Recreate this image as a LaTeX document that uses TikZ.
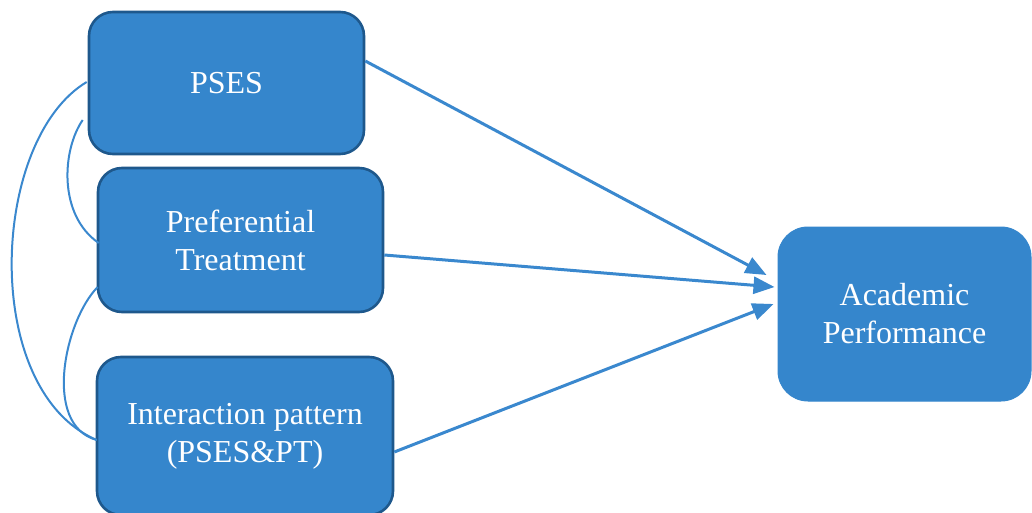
\documentclass[tikz,border=0pt]{standalone}
\usepackage{fontspec}
\setmainfont{Liberation Serif}
\usetikzlibrary{arrows.meta,calc}
\definecolor{boxfill}{RGB}{53,134,204}
\definecolor{boxline}{RGB}{30,88,140}
\definecolor{linkblue}{RGB}{58,136,206}
\begin{document}
\begin{tikzpicture}[x=1pt,y=-1pt,
  varbox/.style={draw=boxline,fill=boxfill,line width=2.6pt,rounded corners=24pt,
    text=white,align=center,inner sep=0pt,font=\fontsize{32}{38}\selectfont},
  outbox/.style={draw=boxfill,fill=boxfill,line width=1pt,rounded corners=30pt,
    text=white,align=center,inner sep=0pt,font=\fontsize{32}{38}\selectfont},
  effect/.style={draw=linkblue,line width=3pt,-{Triangle[length=21pt,width=17pt]}},
  corr/.style={draw=linkblue,line width=2pt}]
\useasboundingbox (0,0) rectangle (1032,513);
\node[varbox,minimum width=275pt,minimum height=142pt] (pses) at (226.5,83) {PSES};
\node[varbox,minimum width=285pt,minimum height=144pt] (pt) at (240.5,240) {Preferential\\Treatment};
\node[varbox,minimum width=296pt,minimum height=158pt] (int) at (245,436) {Interaction pattern\\(PSES\&PT)};
\node[outbox,minimum width=253pt,minimum height=174pt] (ap) at (904.5,314) {Academic\\Performance};
% effects
\coordinate (t1) at ($(ap.west)+(-11,-39)$);
\coordinate (t2) at ($(ap.west)+(-3,-27)$);
\coordinate (t3) at ($(ap.west)+(-4,-10)$);
\draw[effect] ($(pses.east)+(0,-22)$) -- (t1);
\draw[effect] ($(pt.east)+(0,15)$) -- (t2);
\draw[effect] ($(int.east)+(0,16)$) -- (t3);
% correlations
\draw[corr] ($(pses.west)+(-1,-1)$) .. controls (-10,140) and (-20,390) .. ($(int.west)+(1,4)$);
\draw[corr] ($(pses.west)+(-5,37)$) .. controls (62,150) and (58,215) .. ($(pt.west)+(2,3)$);
\draw[corr] ($(pt.west)+(1,47)$) .. controls (65,320) and (42,425) .. ($(int.west)+(1,4)$);
\end{tikzpicture}
\end{document}
